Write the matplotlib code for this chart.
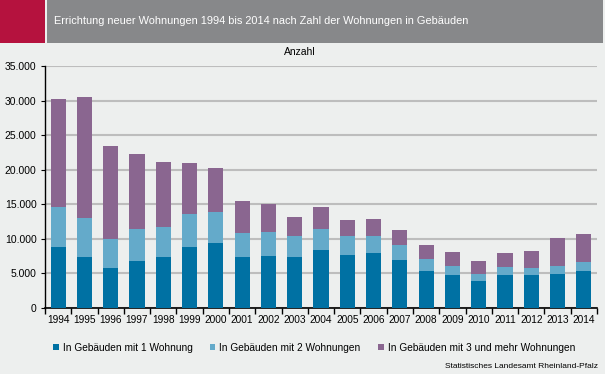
"""
plot.py
Errichtung neuer Wohnungen 1994 bis 2014 - stacked bars
"""

import matplotlib
matplotlib.use("Agg")
import matplotlib.pyplot as plt
from matplotlib.patches import Rectangle
from matplotlib.ticker import FuncFormatter, FixedLocator

# ------------------ DATA ------------------
years = [str(y) for y in range(1994, 2015)]
one_flat = [8850, 7400, 5800, 6850, 7400, 8850, 9430, 7400, 7550, 7400, 8400,
            7700, 8000, 6980, 5350, 4770, 3900, 4770, 4770, 4920, 5350]
# cumulative tops -> convert to segment values below
top_two = [14630, 13050, 10000, 11450, 11750, 13600, 13900, 10900, 11000, 10450, 11450,
           10450, 10450, 9150, 7080, 6070, 4920, 5930, 5780, 6070, 6650]
top_all = [30230, 30500, 23450, 22300, 21100, 21000, 20270, 15500, 15070, 13200, 14650,
           12750, 12900, 11300, 9100, 8100, 6800, 7950, 8240, 10120, 10700]
two_flats = [t - o for t, o in zip(top_two, one_flat)]
three_plus = [a - t for a, t in zip(top_all, top_two)]

series_labels = ["In Gebäuden mit 1 Wohnung",
                 "In Gebäuden mit 2 Wohnungen",
                 "In Gebäuden mit 3 und mehr Wohnungen"]

# ------------------ STYLE ------------------
BG = "#EDEFEE"
RED = "#B5123E"
HEADER_GRAY = "#87888A"
COLORS = ["#0071A3", "#64AACA", "#8A6690"]
GRID = "#BDBDBD"

plt.rcParams["font.family"] = ["Liberation Sans", "DejaVu Sans"]

fig = plt.figure(figsize=(6.05, 3.74), dpi=100, facecolor=BG)

# header band
fig.patches.append(Rectangle((0, 1 - 43 / 374), 45 / 605, 43 / 374,
                             transform=fig.transFigure, facecolor=RED, edgecolor="none"))
fig.patches.append(Rectangle((47 / 605, 1 - 43 / 374), 556 / 605, 43 / 374,
                             transform=fig.transFigure, facecolor=HEADER_GRAY, edgecolor="none"))
fig.text(54 / 605, 1 - 21 / 374, "Errichtung neuer Wohnungen 1994 bis 2014 nach Zahl der Wohnungen in Gebäuden",
         color="white", fontsize=7.9, va="center", ha="left")
fig.text(300 / 605, 1 - 52 / 374, "Anzahl", fontsize=7.5, ha="center", va="center")

ax = fig.add_axes([45 / 605, 1 - 308 / 374, 552 / 605, 242 / 374])
ax.set_facecolor(BG)

x = list(range(len(years)))
width = 0.58
ax.bar(x, one_flat, width, color=COLORS[0], label=series_labels[0], zorder=3)
ax.bar(x, two_flats, width, bottom=one_flat, color=COLORS[1], label=series_labels[1], zorder=3)
ax.bar(x, three_plus, width, bottom=top_two, color=COLORS[2], label=series_labels[2], zorder=3)

ax.set_xlim(-0.5, len(years) - 0.5)
ax.set_ylim(0, 35000)
ax.set_yticks(range(0, 35001, 5000))
ax.yaxis.set_major_formatter(FuncFormatter(lambda v, p: f"{int(v):,}".replace(",", ".")))
ax.yaxis.grid(True, color=GRID, linewidth=1.5, zorder=0)
ax.set_axisbelow(True)

ax.set_xticks(x)
ax.set_xticklabels(years)
ax.xaxis.set_minor_locator(FixedLocator([i - 0.5 for i in range(len(years) + 1)]))
ax.tick_params(axis="x", which="major", length=0, labelsize=7.3, pad=5)
ax.tick_params(axis="x", which="minor", length=4, width=1, color="black")
ax.tick_params(axis="y", length=3, labelsize=7.5, pad=3)

for side in ["top", "right"]:
    ax.spines[side].set_visible(False)
ax.spines["left"].set_linewidth(1)
ax.spines["bottom"].set_linewidth(1.2)

leg = fig.legend(loc="center", bbox_to_anchor=(314 / 605, 1 - 348 / 374), ncol=3, frameon=False,
                 fontsize=7.3, handlelength=0.55, handleheight=0.55, handletextpad=0.4,
                 columnspacing=1.7)

fig.text(598 / 605, 1 - 367 / 374, "Statistisches Landesamt Rheinland-Pfalz",
         fontsize=6, ha="right", va="center")

fig.savefig("out.png", dpi=100, facecolor=BG)
